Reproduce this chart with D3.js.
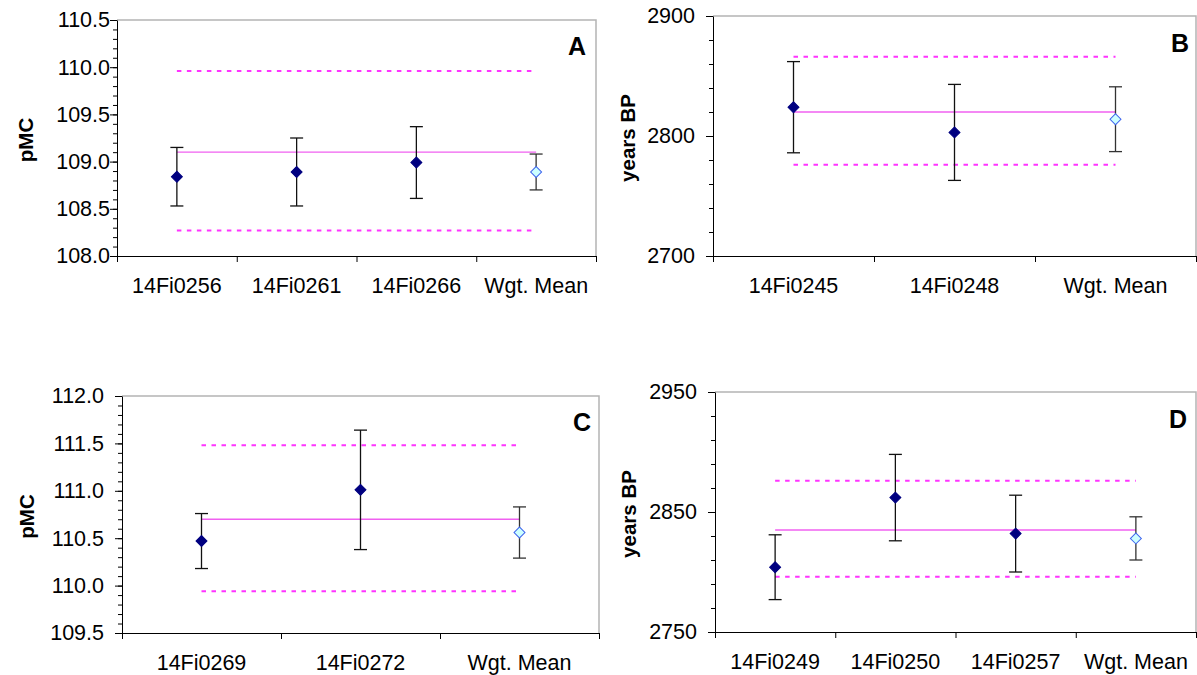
<!DOCTYPE html>
<html>
<head>
<meta charset="utf-8">
<script src="https://cdn.jsdelivr.net/npm/d3@7"></script>
<style>
  body { margin: 0; background: #fff; }
  svg { display: block; font-family: "Liberation Sans", Arial, sans-serif; }
</style>
</head>
<body>
<svg id="chart" width="1197" height="675"></svg>
<script>
// panel A
const catsA = ["14Fi0256", "14Fi0261", "14Fi0266", "Wgt. Mean"];
const valsA = [108.84, 108.89, 108.99, 108.89];
const errsA = [0.31, 0.36, 0.38, 0.19];
const meanA = 109.1;
const bandA = [108.27, 109.96];
const domainA = [108.0, 110.5];

// panel B
const catsB = ["14Fi0245", "14Fi0248", "Wgt. Mean"];
const valsB = [2824, 2803, 2814];
const errsB = [38, 40, 27];
const meanB = 2820;
const bandB = [2776, 2866];
const domainB = [2700, 2900];

// panel C
const catsC = ["14Fi0269", "14Fi0272", "Wgt. Mean"];
const valsC = [110.47, 111.01, 110.56];
const errsC = [0.29, 0.63, 0.27];
const meanC = 110.7;
const bandC = [109.94, 111.48];
const domainC = [109.5, 112.0];

// panel D
const catsD = ["14Fi0249", "14Fi0250", "14Fi0257", "Wgt. Mean"];
const valsD = [2804, 2862, 2832, 2828];
const errsD = [27, 36, 32, 18];
const meanD = 2835;
const bandD = [2796, 2876];
const domainD = [2750, 2950];

const panels = [
  {cats: catsA, vals: valsA, errs: errsA, mean: meanA, band: bandA, domain: domainA,
   major: 0.5, minor: 0.1, fmt: ".1f", title: "pMC", letter: "A",
   box: {l: 117, r: 596, t: 20, b: 256}, gap: 7, titleX: 25, letterPos: [577, 46]},
  {cats: catsB, vals: valsB, errs: errsB, mean: meanB, band: bandB, domain: domainB,
   major: 100, minor: 20, fmt: "d", title: "years BP", letter: "B",
   box: {l: 713, r: 1196, t: 16, b: 256}, gap: 18, titleX: 627, letterPos: [1180, 43]},
  {cats: catsC, vals: valsC, errs: errsC, mean: meanC, band: bandC, domain: domainC,
   major: 0.5, minor: 0.1, fmt: ".1f", title: "pMC", letter: "C",
   box: {l: 122, r: 599, t: 396, b: 633}, gap: 18, titleX: 26, letterPos: [582, 422]},
  {cats: catsD, vals: valsD, errs: errsD, mean: meanD, band: bandD, domain: domainD,
   major: 100, minor: 20, fmt: "d", title: "years BP", letter: "D",
   box: {l: 715, r: 1196, t: 392, b: 632}, gap: 18, titleX: 628, letterPos: [1178, 419]}
];

const svg = d3.select("#chart");

panels.forEach(p => {
  const g = svg.append("g");
  const {l, r, t, b} = p.box;

  const y = d3.scaleLinear().domain(p.domain).range([b, t]);
  const x = d3.scaleBand().domain(p.cats).range([l, r]).padding(0);
  const xEdge = d3.scaleLinear().domain([0, p.cats.length]).range([l, r]);
  const cx = c => x(c) + x.bandwidth() / 2;

  // grey frame on top and right
  g.append("path")
    .attr("d", `M${l},${t}H${r}V${b}`)
    .attr("fill", "none")
    .attr("stroke", "#b4b4b4")
    .attr("stroke-width", 1.5);

  // minor ticks
  const step = p.minor;
  const minorVals = d3.range(p.domain[0], p.domain[1] + step / 2, step)
    .map(v => +v.toFixed(3));
  g.append("g")
    .attr("transform", `translate(${l},0)`)
    .call(d3.axisLeft(y).tickValues(minorVals).tickSize(4).tickSizeOuter(0).tickFormat(""))
    .call(a => a.select(".domain").remove())
    .selectAll("line").attr("stroke", "#000");

  // major ticks + labels
  const majorVals = d3.range(p.domain[0], p.domain[1] + p.major / 2, p.major)
    .map(v => +v.toFixed(3));
  const yAxis = g.append("g")
    .attr("transform", `translate(${l},0)`)
    .call(d3.axisLeft(y).tickValues(majorVals).tickSize(7).tickSizeOuter(0)
      .tickPadding(p.gap - 7).tickFormat(d3.format(p.fmt)));
  yAxis.select(".domain").attr("stroke", "#000");
  yAxis.selectAll("text")
    .attr("font-size", 21.5)
    .attr("fill", "#000")
    .attr("font-family", "Liberation Sans, Arial, sans-serif");

  // x axis: boundary ticks
  g.append("g")
    .attr("transform", `translate(0,${b})`)
    .call(d3.axisBottom(xEdge).tickValues(d3.range(p.cats.length + 1))
      .tickSize(6).tickSizeOuter(0).tickFormat(""))
    .call(a => a.select(".domain").attr("stroke", "#000"))
    .selectAll("line").attr("stroke", "#000");

  // x axis: category labels
  const xAxis = g.append("g")
    .attr("transform", `translate(0,${b})`)
    .call(d3.axisBottom(x).tickSize(0).tickPadding(22));
  xAxis.select(".domain").remove();
  xAxis.selectAll("text")
    .attr("font-size", 21.5)
    .attr("fill", "#000")
    .attr("font-family", "Liberation Sans, Arial, sans-serif");

  const x0 = cx(p.cats[0]);
  const x1 = cx(p.cats[p.cats.length - 1]);

  // dashed band lines
  g.selectAll(".band").data(p.band).enter().append("line")
    .attr("x1", x0).attr("x2", x1)
    .attr("y1", d => y(d)).attr("y2", d => y(d))
    .attr("stroke", "#ff33ff")
    .attr("stroke-width", 2)
    .attr("stroke-dasharray", "4.5,5.5");

  // mean line
  g.append("line")
    .attr("x1", x0).attr("x2", x1)
    .attr("y1", y(p.mean)).attr("y2", y(p.mean))
    .attr("stroke", "#f060f0")
    .attr("stroke-width", 1.4);

  // error bars
  const rows = p.cats.map((c, i) => ({c, v: p.vals[i], e: p.errs[i], wm: i === p.cats.length - 1}));
  const eb = g.selectAll(".err").data(rows).enter().append("g")
    .attr("stroke", d => d.wm ? "#333" : "#111")
    .attr("stroke-width", 1.3);
  eb.append("line")
    .attr("x1", d => cx(d.c)).attr("x2", d => cx(d.c))
    .attr("y1", d => y(d.v - d.e)).attr("y2", d => y(d.v + d.e));
  eb.append("line")
    .attr("x1", d => cx(d.c) - 6.5).attr("x2", d => cx(d.c) + 6.5)
    .attr("y1", d => y(d.v + d.e)).attr("y2", d => y(d.v + d.e));
  eb.append("line")
    .attr("x1", d => cx(d.c) - 6.5).attr("x2", d => cx(d.c) + 6.5)
    .attr("y1", d => y(d.v - d.e)).attr("y2", d => y(d.v - d.e));

  // markers (square rotated 45 deg)
  g.selectAll(".pt").data(rows).enter().append("path")
    .attr("d", d3.symbol(d3.symbolSquare, 60))
    .attr("transform", d => `translate(${cx(d.c)},${y(d.v)}) rotate(45)`)
    .attr("fill", d => d.wm ? "#ccffff" : "#000080")
    .attr("stroke", d => d.wm ? "#3f66ee" : "#000080")
    .attr("stroke-width", 1);

  // y title
  g.append("text")
    .attr("transform", `translate(${p.titleX},${(t + b) / 2 + 2}) rotate(-90)`)
    .attr("text-anchor", "middle")
    .attr("dominant-baseline", "central")
    .attr("font-size", 20.5)
    .attr("font-weight", "bold")
    .text(p.title);

  // panel letter
  g.append("text")
    .attr("x", p.letterPos[0]).attr("y", p.letterPos[1])
    .attr("text-anchor", "middle")
    .attr("dominant-baseline", "central")
    .attr("font-size", 25)
    .attr("font-weight", "bold")
    .text(p.letter);
});
</script>
</body>
</html>
